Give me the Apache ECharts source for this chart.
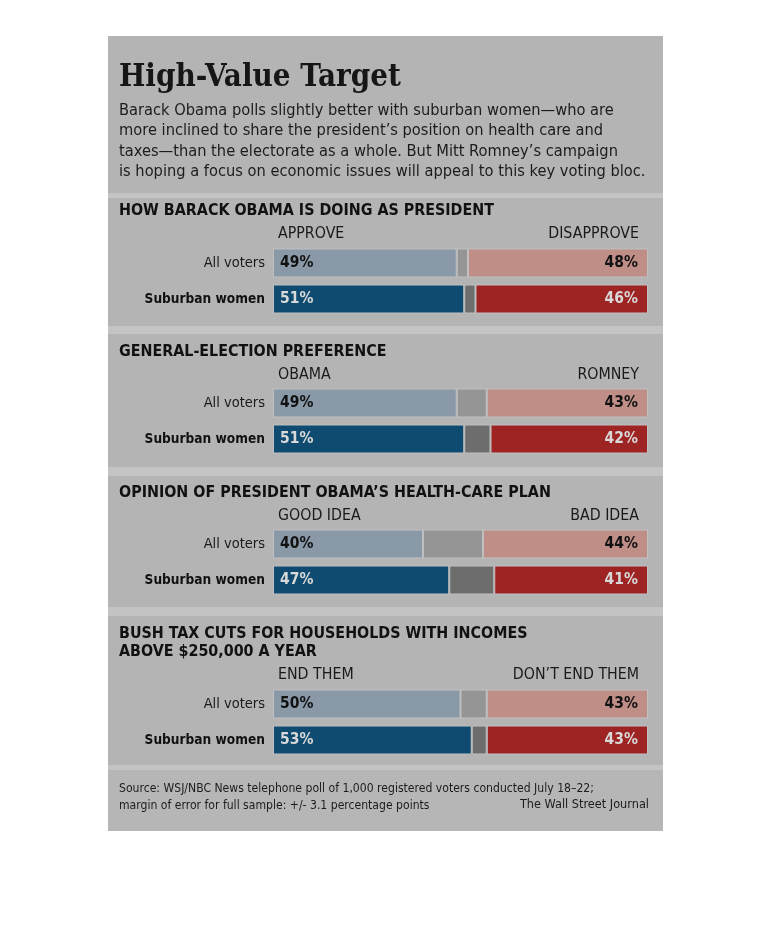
<!DOCTYPE html>
<html>
<head>
<meta charset="utf-8">
<script src="https://cdn.jsdelivr.net/npm/echarts@6/dist/echarts.min.js"></script>
<style>
html,body{margin:0;padding:0;background:#fff;}
#c{width:770px;height:926px;}
</style>
</head>
<body>
<div id="c"></div>
<script>
const categories = ['All voters', 'Suburban women'];
const sectionTitles = [
  'HOW BARACK OBAMA IS DOING AS PRESIDENT',
  'GENERAL-ELECTION PREFERENCE',
  'OPINION OF PRESIDENT OBAMA\u2019S HEALTH-CARE PLAN',
  'BUSH TAX CUTS FOR HOUSEHOLDS WITH INCOMES\nABOVE $250,000 A YEAR'
];
const leftLabels = ['APPROVE', 'OBAMA', 'GOOD IDEA', 'END THEM'];
const rightLabels = ['DISAPPROVE', 'ROMNEY', 'BAD IDEA', 'DON\u2019T END THEM'];
const leftValues = [[49, 51], [49, 51], [40, 47], [50, 53]];
const midValues = [[3, 3], [8, 7], [16, 12], [7, 4]];
const rightValues = [[48, 46], [43, 42], [44, 41], [43, 43]];

const titleText = 'High-Value Target';
const introText = 'Barack Obama polls slightly better with suburban women\u2014who are\nmore inclined to share the president\u2019s position on health care and\ntaxes\u2014than the electorate as a whole. But Mitt Romney\u2019s campaign\nis hoping a focus on economic issues will appeal to this key voting bloc.';
const sourceText = 'Source: WSJ/NBC News telephone poll of 1,000 registered voters conducted July 18\u201322;\nmargin of error for full sample: +/- 3.1 percentage points';
const creditText = 'The Wall Street Journal';

const SANS = '"Liberation Sans Narrow", "DejaVu Sans Condensed", "Roboto Condensed", sans-serif';
const SERIF = '"DejaVu Serif Condensed", "DejaVu Serif", serif';

const gridTops = [245, 385, 526, 686];
const headerY = [211, 352, 493, 634];
const colLabelY = [234, 375, 516, 675];
const panelRects = [[198, 128], [334, 133], [476, 131], [616, 149]];

const colors = {
  left: ['#8a99a8', '#0f4b71'],
  mid: ['#959595', '#6d6d6d'],
  right: ['#bf8e86', '#9e2323'],
  labelDark: '#111',
  labelLight: '#d9d9d9'
};

const chart = echarts.init(document.getElementById('c'), null, {renderer: 'canvas'});

const grids = [], xAxes = [], yAxes = [], series = [];
gridTops.forEach((top, i) => {
  grids.push({left: 273, right: 122, top: top, height: 72});
  xAxes.push({gridIndex: i, type: 'value', min: 0, max: 100, show: false});
  yAxes.push({
    gridIndex: i, type: 'category', data: categories, inverse: true,
    axisLine: {show: false}, axisTick: {show: false},
    axisLabel: {
      margin: 8,
      formatter: (v, idx) => idx === 1 ? '{b|' + v + '}' : '{n|' + v + '}',
      rich: {
        n: {fontFamily: SANS, fontSize: 14.5, color: '#1a1a1a'},
        b: {fontFamily: SANS, fontSize: 13.6, fontWeight: 'bold', color: '#111'}
      }
    }
  });
  const mk = (vals, key, labelPos) => ({
    type: 'bar', xAxisIndex: i, yAxisIndex: i, stack: 's' + i,
    barWidth: 29, silent: true,
    data: vals.map((v, r) => ({
      value: v,
      itemStyle: {color: colors[key][r], borderColor: '#c0c0c0', borderWidth: 1},
      label: {color: r === 0 ? colors.labelDark : colors.labelLight}
    })),
    label: labelPos ? {
      show: true, position: labelPos, distance: labelPos === 'insideLeft' ? 7 : 10,
      formatter: '{c}%', fontFamily: SANS, fontSize: 15.5, fontWeight: 'bold'
    } : {show: false}
  });
  series.push(mk(leftValues[i], 'left', 'insideLeft'));
  series.push(mk(midValues[i], 'mid', null));
  series.push(mk(rightValues[i], 'right', 'insideRight'));
});

const graphics = [
  {type: 'rect', z: -10, shape: {x: 108, y: 36, width: 555, height: 795}, style: {fill: '#c4c4c4'}},
  {type: 'rect', z: -9, shape: {x: 108, y: 36, width: 555, height: 157}, style: {fill: '#b4b4b4'}},
  {type: 'rect', z: -9, shape: {x: 108, y: 770, width: 555, height: 61}, style: {fill: '#b6b6b6'}},
  {type: 'text', x: 119, y: 62, style: {text: titleText, font: 'bold 31px ' + SERIF, fill: '#161616'}},
  {type: 'text', x: 119, y: 100.5, style: {text: introText, font: '16.3px ' + SANS, fill: '#1c1c1c', lineHeight: 20.5}},
  {type: 'text', x: 119, y: 781, style: {text: sourceText, font: '12.1px ' + SANS, fill: '#1c1c1c', lineHeight: 16.5}},
  {type: 'text', x: 649, y: 798, style: {text: creditText, font: '12.6px ' + SANS, fill: '#1c1c1c', align: 'right'}}
];
panelRects.forEach(p => graphics.push({type: 'rect', z: -9, shape: {x: 108, y: p[0], width: 555, height: p[1]}, style: {fill: '#b4b4b4'}}));
sectionTitles.forEach((t, i) => {
  graphics.push({type: 'text', x: 119, y: headerY[i] - 9, style: {text: t, font: 'bold 15.9px ' + SANS, fill: '#111', lineHeight: 18}});
  graphics.push({type: 'text', x: 278, y: colLabelY[i], style: {text: leftLabels[i], font: '15.8px ' + SANS, fill: '#1a1a1a', verticalAlign: 'middle'}});
  graphics.push({type: 'text', x: 639, y: colLabelY[i], style: {text: rightLabels[i], font: '15.8px ' + SANS, fill: '#1a1a1a', align: 'right', verticalAlign: 'middle'}});
});

chart.setOption({
  animation: false,
  grid: grids, xAxis: xAxes, yAxis: yAxes, series: series,
  graphic: graphics
});
</script>
</body>
</html>
